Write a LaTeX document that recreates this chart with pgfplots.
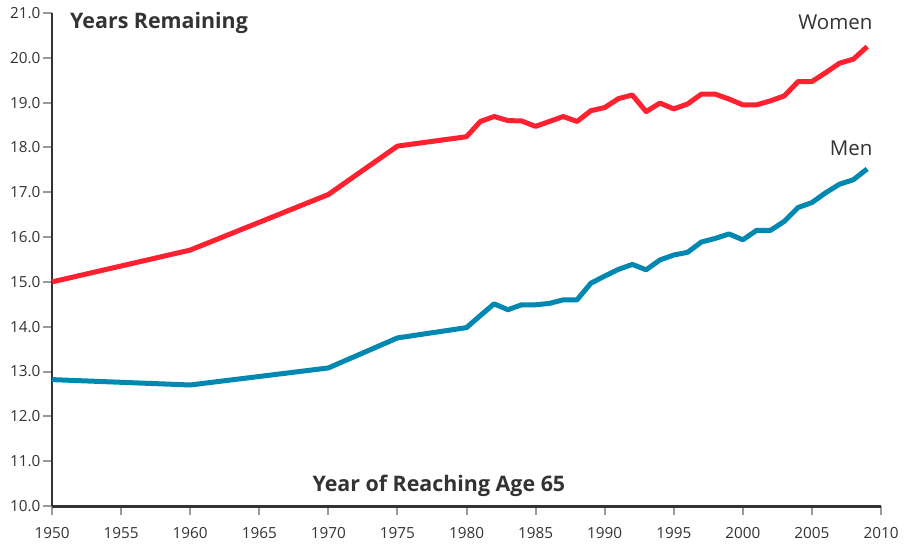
\documentclass[border=0pt]{standalone}
\usepackage{fontspec}
\setmainfont{Open Sans}
\usepackage{pgfplots}
\pgfplotsset{compat=1.18}
\definecolor{wred}{HTML}{FF2030}
\definecolor{mteal}{HTML}{0088B0}
\definecolor{txt}{HTML}{333333}
\definecolor{tk}{HTML}{9A9A9A}
\begin{document}
\begin{tikzpicture}[x=1pt,y=1pt]
\useasboundingbox (0,0) rectangle (910,544);
\begin{axis}[
  at={(52pt,38pt)}, anchor=south west,
  scale only axis, width=829pt, height=493pt,
  xmin=1950, xmax=2010, ymin=10, ymax=21,
  axis x line=bottom, axis y line=left,
  axis line style={-},
  x axis line style={line width=3pt, color=txt},
  y axis line style={line width=2.5pt, color=txt},
  xtick={1950,1955,...,2010}, ytick={10,11,...,21},
  major tick length=9pt,
  tick align=outside,
  tick style={color=tk, line width=2pt},
  ticklabel style={font=\fontsize{15.3}{17}\selectfont, text=txt},
  /pgf/number format/assume math mode=true,
  xticklabel style={/pgf/number format/1000 sep={}, yshift=-9pt},
  yticklabel style={/pgf/number format/fixed, /pgf/number format/fixed zerofill, /pgf/number format/precision=1, xshift=1pt},
  clip=false,
]
\addplot[wred, line width=5pt, line join=round] coordinates {
(1950,15.00) (1960,15.71) (1970,16.95) (1975,18.03) (1980,18.24)
(1981,18.58) (1982,18.69) (1983,18.60) (1984,18.59) (1985,18.47)
(1986,18.58) (1987,18.69) (1988,18.58) (1989,18.82) (1990,18.89)
(1991,19.09) (1992,19.17) (1993,18.80) (1994,18.99) (1995,18.86)
(1996,18.97) (1997,19.19) (1998,19.19) (1999,19.08) (2000,18.95)
(2001,18.95) (2002,19.04) (2003,19.15) (2004,19.47) (2005,19.47)
(2006,19.67) (2007,19.88) (2008,19.97) (2009,20.25)
};
\addplot[mteal, line width=5pt, line join=round] coordinates {
(1950,12.82) (1960,12.70) (1970,13.08) (1975,13.75) (1980,13.98)
(1981,14.25) (1982,14.51) (1983,14.38) (1984,14.49) (1985,14.49)
(1986,14.52) (1987,14.60) (1988,14.60) (1989,14.97) (1990,15.13)
(1991,15.28) (1992,15.39) (1993,15.27) (1994,15.49) (1995,15.60)
(1996,15.66) (1997,15.89) (1998,15.97) (1999,16.07) (2000,15.94)
(2001,16.15) (2002,16.15) (2003,16.35) (2004,16.66) (2005,16.77)
(2006,16.99) (2007,17.18) (2008,17.28) (2009,17.52)
};
\node[anchor=base east, inner sep=0pt, text=txt, font=\fontsize{20.5}{22}\selectfont] at (axis cs:2009.4,20.63) {Women};
\node[anchor=base east, inner sep=0pt, text=txt, font=\fontsize{20.5}{22}\selectfont] at (axis cs:2009.4,17.83) {Men};
\node[anchor=base west, inner sep=0pt, text=txt, font=\fontsize{21.4}{23}\selectfont\bfseries] at (axis cs:1951.3,20.65) {Years Remaining};
\node[anchor=base, inner sep=0pt, text=txt, font=\fontsize{21.4}{23}\selectfont\bfseries] at (axis cs:1978.0,10.33) {Year of Reaching Age 65};
\end{axis}
\end{tikzpicture}
\end{document}
